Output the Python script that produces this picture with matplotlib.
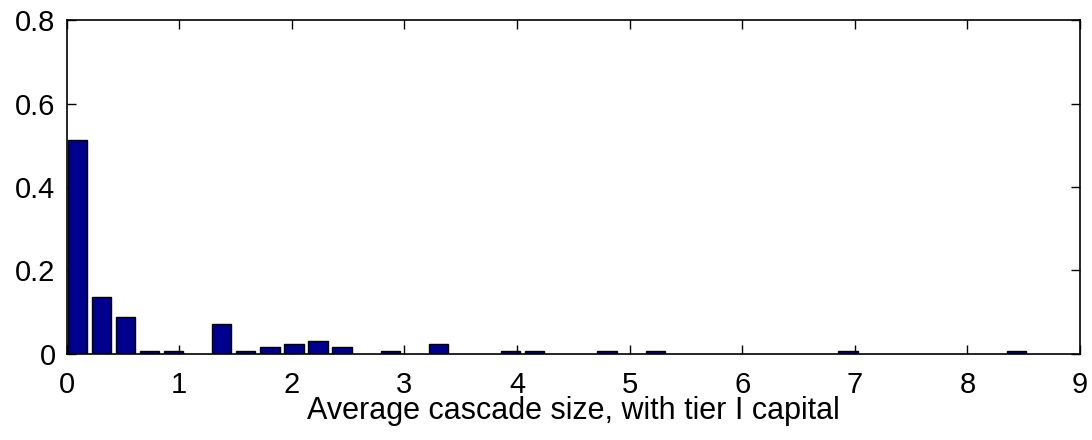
import matplotlib
matplotlib.use("Agg")
import matplotlib.pyplot as plt

# Bin centers of non-empty histogram bins and their relative frequencies
bin_centers = [0.093, 0.307, 0.521, 0.735, 0.949, 1.376, 1.590, 1.804, 2.018,
               2.232, 2.446, 2.874, 3.302, 3.943, 4.157, 4.799, 5.227, 6.938, 8.435]
frequencies = [0.512, 0.136, 0.088, 0.008, 0.008, 0.072, 0.008, 0.016, 0.024,
               0.032, 0.016, 0.008, 0.024, 0.008, 0.008, 0.008, 0.008, 0.008, 0.008]
x_ticks = [0, 1, 2, 3, 4, 5, 6, 7, 8, 9]
y_ticks = [0, 0.2, 0.4, 0.6, 0.8]
y_tick_labels = ["0", "0.2", "0.4", "0.6", "0.8"]
xlabel = "Average cascade size, with tier I capital"

plt.rcParams['font.family'] = ['Liberation Sans', 'DejaVu Sans']

fig = plt.figure(figsize=(10.92, 4.40), dpi=100)
ax = fig.add_axes([0.0611, 0.1955, 0.9279, 0.759])

ax.bar(bin_centers, frequencies, width=0.172, color=(0, 0, 0.5625),
       edgecolor='black', linewidth=1.0, zorder=2)

ax.set_xlim(0, 9)
ax.set_ylim(0, 0.8)
ax.set_xticks(x_ticks)
ax.set_xticklabels([str(t) for t in x_ticks])
ax.set_yticks(y_ticks)
ax.set_yticklabels(y_tick_labels)
ax.tick_params(direction='in', length=6.5, width=1.0, labelsize=21,
               top=True, right=True)
ax.tick_params(axis='x', pad=12)
ax.tick_params(axis='y', pad=8)
for s in ax.spines.values():
    s.set_linewidth(1.2)
ax.set_xlabel(xlabel, fontsize=22, labelpad=-2)

fig.savefig("out.png", dpi=100)
